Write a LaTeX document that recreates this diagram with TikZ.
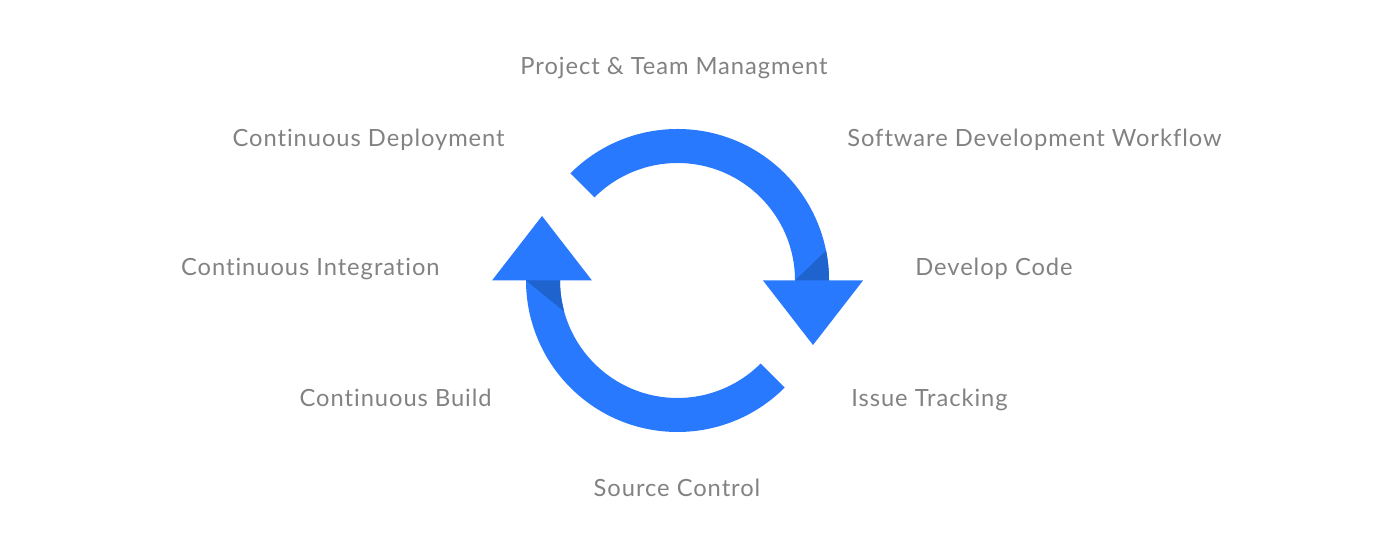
\documentclass[tikz,border=0pt]{standalone}
\usepackage{fontspec}
\setmainfont{Lato}[LetterSpace=4, Ligatures=NoCommon]
\usepackage{tikz}
\usetikzlibrary{positioning,calc}
\definecolor{cycleblue}{RGB}{41,121,255}
\definecolor{cycleshade}{RGB}{31,99,207}
\definecolor{labelgray}{RGB}{130,130,130}

\begin{document}
\begin{tikzpicture}[
    x=0.02cm, y=0.02cm,
    band/.style={fill=cycleblue, draw=none},
    fold/.style={fill=cycleshade, draw=none},
    lab/.style={text=labelgray, font=\fontsize{13.5}{16}\selectfont, inner sep=0pt}
]
    \useasboundingbox (0,0) rectangle (1388,536);

    % Kreislauf aus zwei Pfeilen
    \begin{scope}[shift={(677.5,255.5)}]
        \foreach \rot in {0,180}{
            \begin{scope}[rotate=\rot]
                \fill[band] (135:151.5) arc (135:0:151.5) -- (185.5,0) -- (135.5,-64.5)
                    -- (85.5,0) -- (117.5,0) arc (0:135:117.5) -- cycle;
            \end{scope}
        }
        % Knick am Pfeilkopf
        \fill[fold] (117.5,0) -- (151.5,0) arc (0:11.4:151.5) -- cycle;
        \fill[fold] (-151.5,0) -- (-117.5,0) arc (180:195.3:117.5) -- cycle;
    \end{scope}

    % Beschriftung
    \node[lab, anchor=base] (ptm) at (674,461) {Project \& Team Managment};
    \node[lab, anchor=base east] (cdep) at (505,389.3) {Continuous Deployment};
    \node[lab, anchor=base west] (sdw) at (847,389.3) {Software Development Workflow};
    \node[lab, anchor=base east] (cint) at (440,260) {Continuous Integration};
    \node[lab, anchor=base west] (dcode) at (915,260) {Develop Code};
    \node[lab, anchor=base east] (cbuild) at (492,129.3) {Continuous Build};
    \node[lab, anchor=base west] (issue) at (851,129.3) {Issue Tracking};
    \node[lab, anchor=base] (src) at (677,39.3) {Source Control};
\end{tikzpicture}
\end{document}
